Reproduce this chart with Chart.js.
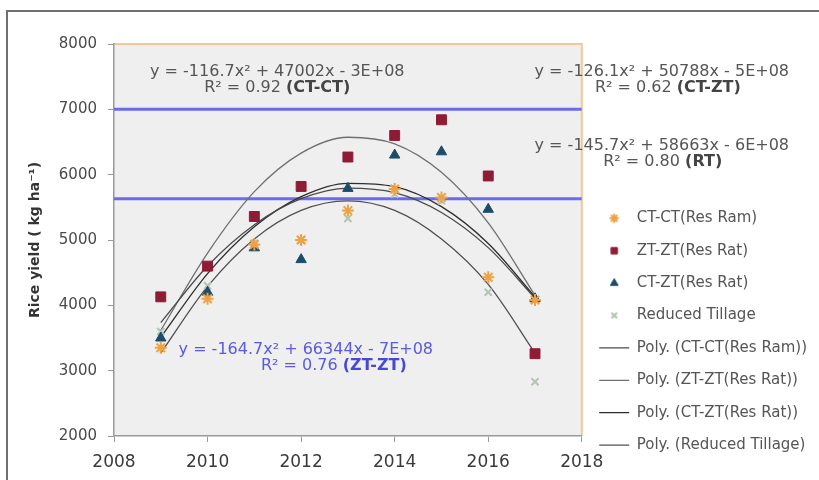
<!DOCTYPE html>
<html><head><meta charset="utf-8">
<script src="https://cdn.jsdelivr.net/npm/chart.js@4/dist/chart.umd.min.js"></script>
<style>html,body{margin:0;padding:0;background:#fff}</style>
</head><body>
<canvas id="c" width="819" height="480"></canvas>
<script>
// ---- data ----
const years = [2009, 2010, 2011, 2012, 2013, 2014, 2015, 2016, 2017];
const ctctResRam = [3350, 4100, 4930, 5000, 5450, 5780, 5650, 4430, 4080];
const ztztResRat = [4130, 4600, 5360, 5820, 6270, 6600, 6840, 5980, 3260];
const ctztResRat = [3500, 4200, 4880, 4700, 5790, 6300, 6350, 5470, 4100];
const reducedTillage = [3600, 4300, 4950, 5000, 5330, 5700, 5600, 4200, 2830];
// polynomial trend lines at each year
const polyCtct = [3736, 4602, 5234, 5632, 5795, 5725, 5421, 4883, 4111];
const polyZtzt = [3617, 4800, 5740, 6330, 6573, 6472, 6036, 5263, 4154];
const polyCtzt = [3513, 4486, 5203, 5664, 5868, 5817, 5510, 4947, 4128];
const polyRt   = [3269, 4289, 5017, 5454, 5600, 5454, 5017, 4320, 3269];
// horizontal reference lines
const refYears = [2008, 2018];
const refHigh = [7000, 7000];
const refLow = [5630, 5630];
// axes
const xMin = 2008, xMax = 2018, xStep = 2;
const yMin = 2000, yMax = 8000, yStep = 1000;
const seriesLabels = ['CT-CT(Res Ram)', 'ZT-ZT(Res Rat)', 'CT-ZT(Res Rat)', 'Reduced Tillage',
  'Poly. (CT-CT(Res Ram))', 'Poly. (ZT-ZT(Res Rat))', 'Poly. (CT-ZT(Res Rat))', 'Poly. (Reduced Tillage)'];
const yTitle = 'Rice yield ( kg ha\u207B\u00B9)';
// trend-line equations: [equation, r2 text, bold tag]
const eqTexts = [
  ['y = -116.7x\u00B2 + 47002x - 3E+08', 'R\u00B2 = 0.92 ', '(CT-CT)'],
  ['y = -126.1x\u00B2 + 50788x - 5E+08', 'R\u00B2 = 0.62 ', '(CT-ZT)'],
  ['y = -145.7x\u00B2 + 58663x - 6E+08', 'R\u00B2 = 0.80 ', '(RT)'],
  ['y = -164.7x\u00B2 + 66344x - 7E+08', 'R\u00B2 = 0.76 ', '(ZT-ZT)']
];

const pts = (arr, xs) => arr.map((y, i) => ({x: (xs || years)[i], y}));
const FONT = '"DejaVu Sans", Verdana, sans-serif';
Chart.defaults.font.family = FONT;

// left overhang lets the right-hand legend be wider than Chart.js' default box cap
const LEFT_OVERHANG = 150;

function richText(ctx, parts, cx, cy) {
  let total = 0;
  parts.forEach(p => { ctx.font = p.font; p.w = ctx.measureText(p.t).width; total += p.w; });
  let x = cx - total / 2;
  parts.forEach(p => { ctx.font = p.font; ctx.fillStyle = p.c; ctx.fillText(p.t, x, cy); x += p.w; });
}

const bgPlugin = {
  id: 'bgPlugin',
  beforeDraw(chart) {
    const {ctx, chartArea: a} = chart;
    ctx.save();
    ctx.fillStyle = '#ffffff';
    ctx.fillRect(0, 0, chart.width, chart.height);
    ctx.fillStyle = '#efefef';
    ctx.fillRect(a.left, a.top, a.right - a.left, a.bottom - a.top);
    ctx.strokeStyle = '#f1c79b'; ctx.lineWidth = 2;
    ctx.beginPath(); ctx.moveTo(a.left, a.top); ctx.lineTo(a.right, a.top); ctx.lineTo(a.right, a.bottom); ctx.stroke();
    ctx.strokeStyle = '#707070'; ctx.lineWidth = 2;
    ctx.beginPath(); ctx.moveTo(7, chart.height); ctx.lineTo(7, 11); ctx.lineTo(chart.width, 11); ctx.stroke();
    ctx.restore();
  }
};

const eqPlugin = {
  id: 'eqPlugin',
  afterDraw(chart) {
    const {ctx, scales: {x, y}} = chart;
    // anchor positions (data units) for each equation block
    const anchors = [
      {x: 2011.49, y: 7570, dx: 0.0, col: '#555555', bold: '#444444'},
      {x: 2019.71, y: 7570, dx: 0.13, col: '#555555', bold: '#444444'},
      {x: 2019.71, y: 6440, dx: 0.02, col: '#555555', bold: '#444444'},
      {x: 2012.1, y: 3316, dx: 0.6, col: '#5a5ae0', bold: '#4848d8'}
    ];
    ctx.save();
    ctx.textBaseline = 'middle';
    ctx.textAlign = 'left';
    eqTexts.forEach((t, i) => {
      const an = anchors[i];
      const px = x.getPixelForValue(an.x), py = y.getPixelForValue(an.y);
      richText(ctx, [{t: t[0], font: '16px ' + FONT, c: an.col}], px, py);
      richText(ctx, [{t: t[1], font: '16px ' + FONT, c: an.col}, {t: t[2], font: 'bold 16px ' + FONT, c: an.bold}],
        x.getPixelForValue(an.x + an.dx), py + 16);
    });
    ctx.restore();
  }
};

function markerCanvas(ds) {
  const c = document.createElement('canvas');
  c.width = 14; c.height = 14;
  const g = c.getContext('2d');
  g.fillStyle = ds.backgroundColor; g.strokeStyle = ds.borderColor; g.lineWidth = ds.borderWidth;
  Chart.helpers.drawPoint(g, {pointStyle: ds.pointStyle, radius: ds.legendRadius, borderWidth: ds.borderWidth, rotation: 0}, 7, 7);
  return c;
}

const polyColors = ['#4a4a4a', '#707070', '#2e2e2e', '#505050'];
const polyData = [polyCtct, polyZtzt, polyCtzt, polyRt];

const datasets = [
  {label: seriesLabels[0], data: pts(ctctResRam), showLine: false, pointStyle: 'star', pointRadius: 6, legendRadius: 4.5,
   borderColor: '#eea245', backgroundColor: '#eea245', borderWidth: 2, order: 1},
  {label: seriesLabels[1], data: pts(ztztResRat), showLine: false, pointStyle: 'rect', pointRadius: 7, legendRadius: 4.5,
   borderColor: '#8e1c34', backgroundColor: '#8e1c34', borderWidth: 1, order: 1},
  {label: seriesLabels[2], data: pts(ctztResRat), showLine: false, pointStyle: 'triangle', pointRadius: 6, legendRadius: 4.5,
   borderColor: '#1d4c6a', backgroundColor: '#1d4c6a', borderWidth: 1, order: 1},
  {label: seriesLabels[3], data: pts(reducedTillage), showLine: false, pointStyle: 'crossRot', pointRadius: 5, legendRadius: 4,
   borderColor: '#b3c4b0', backgroundColor: '#b3c4b0', borderWidth: 2, order: 1}
];
polyData.forEach((d, i) => datasets.push({
  label: seriesLabels[4 + i], data: pts(d), borderColor: polyColors[i], backgroundColor: polyColors[i],
  borderWidth: 1.3, pointRadius: 0, pointStyle: 'line', cubicInterpolationMode: 'monotone', order: 2
}));
datasets.push({label: 'ref7000', data: pts(refHigh, refYears), borderColor: 'rgba(92,92,236,0.9)', borderWidth: 3, pointRadius: 0, order: 3});
datasets.push({label: 'ref5630', data: pts(refLow, refYears), borderColor: 'rgba(92,92,236,0.9)', borderWidth: 3, pointRadius: 0, order: 3});

new Chart(document.getElementById('c'), {
  type: 'line',
  data: {datasets},
  plugins: [bgPlugin, eqPlugin],
  options: {
    responsive: false,
    animation: false,
    devicePixelRatio: 1,
    layout: {padding: {top: 44, bottom: 10, left: -LEFT_OVERHANG, right: 2}},
    plugins: {
      tooltip: {enabled: false},
      legend: {
        position: 'right', align: 'end',
        labels: {
          filter: item => item.datasetIndex < 8,
          generateLabels: chart => {
            const items = Chart.defaults.plugins.legend.labels.generateLabels(chart);
            items.forEach(it => {
              const ds = chart.data.datasets[it.datasetIndex];
              if (ds.legendRadius && Chart.helpers && Chart.helpers.drawPoint) it.pointStyle = markerCanvas(ds);
            });
            return items;
          },
          usePointStyle: true, pointStyleWidth: 30, boxHeight: 6,
          padding: 17.4, color: '#555555', font: {size: 15}
        }
      }
    },
    scales: {
      x: {
        type: 'linear', min: xMin, max: xMax,
        ticks: {stepSize: xStep, callback: v => String(v), color: '#3a3a3a', font: {size: 17}, padding: 10},
        grid: {drawOnChartArea: false, drawTicks: true, tickLength: 6, color: '#9a9a9a'},
        border: {color: '#9a9a9a', width: 1.5},
        afterFit: s => { s.height = 34; }
      },
      y: {
        min: yMin, max: yMax,
        ticks: {stepSize: yStep, callback: v => String(v), color: '#4a4a4a', font: {size: 15}, padding: 11},
        grid: {drawOnChartArea: false, drawTicks: true, tickLength: 6, color: '#9a9a9a'},
        border: {color: '#9a9a9a', width: 1.5},
        title: {display: true, text: yTitle, color: '#333333', font: {size: 14, weight: 'bold'}, padding: {top: LEFT_OVERHANG + 27, bottom: 0}},
        afterFit: s => { s.width = 114 + LEFT_OVERHANG; }
      }
    }
  }
});
</script>
</body></html>
